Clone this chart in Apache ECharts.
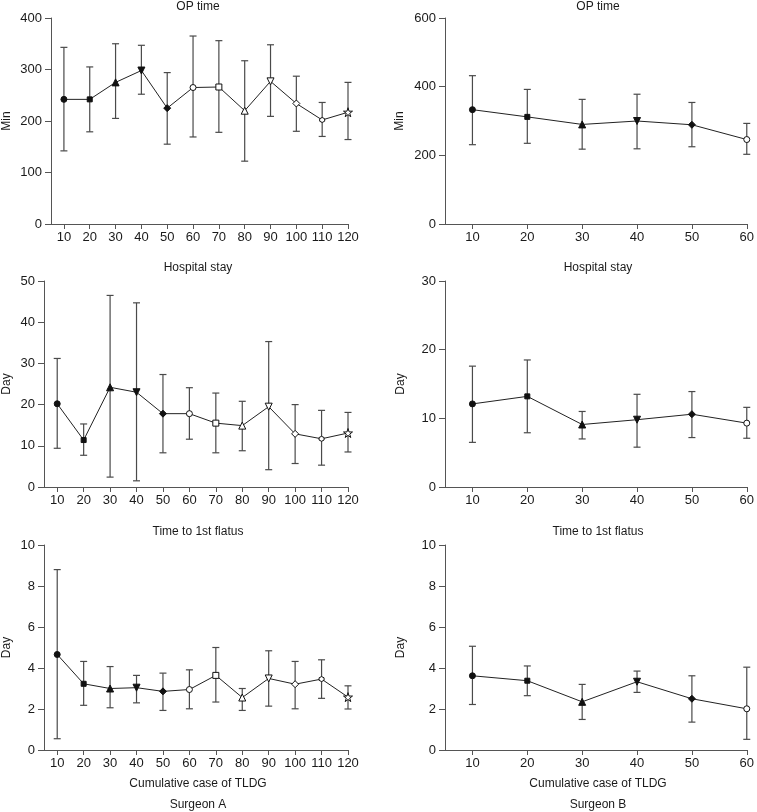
<!DOCTYPE html>
<html><head><meta charset="utf-8">
<script src="https://cdn.jsdelivr.net/npm/echarts@6/dist/echarts.min.js"></script>
<style>html,body{margin:0;padding:0;background:#fff}#c{width:757px;height:812px}</style>
</head><body><div id="c"></div>
<script>
// ---- data ----
const casesA = [10,20,30,40,50,60,70,80,90,100,110,120];
const casesB = [10,20,30,40,50,60];

const opA_mean = [242,242,275,298,225,265,266,220,277,234,202,217];
const opA_low  = [142,179,205,252,155,169,178,122,209,180,170,164];
const opA_high = [343,305,350,347,294,365,356,317,348,287,236,275];

const opB_mean = [333,312,290,300,289,246];
const opB_low  = [231,235,218,219,225,203];
const opB_high = [432,392,363,378,354,293];

const stayA_mean = [20.2,11.4,24.2,23.0,17.8,17.8,15.5,14.9,19.5,12.9,11.7,13.1];
const stayA_low  = [9.4,7.7,2.4,1.5,8.3,11.6,8.3,8.8,4.2,5.7,5.3,8.5];
const stayA_high = [31.2,15.3,46.5,44.7,27.3,24.1,22.8,20.8,35.3,20.0,18.6,18.1];

const stayB_mean = [12.1,13.2,9.1,9.8,10.6,9.3];
const stayB_low  = [6.5,7.9,7.0,5.8,7.2,7.1];
const stayB_high = [17.6,18.5,11.0,13.5,13.9,11.6];

const flatA_mean = [4.66,3.23,3.0,3.04,2.86,2.95,3.64,2.56,3.49,3.21,3.46,2.58];
const flatA_low  = [0.55,2.18,2.06,2.3,1.93,2.01,2.34,1.93,2.14,2.01,2.52,2.0];
const flatA_high = [8.8,4.32,4.07,3.64,3.75,3.91,5.0,3.0,4.84,4.32,4.4,3.13];

const flatB_mean = [3.62,3.38,2.35,3.33,2.5,2.01];
const flatB_low  = [2.22,2.65,1.49,2.81,1.36,0.52];
const flatB_high = [5.06,4.1,3.2,3.85,3.62,4.04];

// ---- marker styles ----
const HEX = 'path://M0,-1L0.866,-0.5L0.866,0.5L0,1L-0.866,0.5L-0.866,-0.5Z';
const STAR = 'path://M0,-1L0.2245,-0.309L0.9511,-0.309L0.3633,0.118L0.5878,0.809L0,0.382L-0.5878,0.809L-0.3633,0.118L-0.9511,-0.309L-0.2245,-0.309Z';
const MARKS = [
  {s:'circle', z:6, f:true},
  {s:'rect', z:5, f:true},
  {s:'triangle', z:7, f:true},
  {s:'triangle', r:180, z:7, f:true},
  {s:'diamond', z:7, f:true},
  {s:'circle', z:6, f:false},
  {s:'rect', z:6, f:false},
  {s:'triangle', z:7, f:false},
  {s:'triangle', r:180, z:7, f:false},
  {s:'diamond', z:7, f:false},
  {s:HEX, z:5, f:false},
  {s:STAR, z:9, f:false}
];

const FONT = 'Liberation Sans, Arial, sans-serif';
const INK = '#1a1a1a';
const AXIS = '#555';

const grids = [], xAxes = [], yAxes = [], series = [];

function panel(xs, mean, lo, hi, xMax, yMax, yInt, yName, g, nameGap) {
  const i = grids.length;
  grids.push(Object.assign({containLabel:false}, g));
  xAxes.push({
    gridIndex:i, type:'value', min:5, max:xMax,
    axisLine:{lineStyle:{color:AXIS, width:1}},
    axisTick:{customValues:xs, length:5, lineStyle:{color:AXIS}},
    axisLabel:{customValues:xs, color:INK, fontSize:13, fontFamily:FONT, margin:7},
    splitLine:{show:false}
  });
  yAxes.push({
    gridIndex:i, type:'value', min:0, max:yMax, interval:yInt,
    name:yName, nameLocation:'middle', nameGap:nameGap,
    nameTextStyle:{color:INK, fontSize:12, fontFamily:FONT},
    axisLine:{show:true, lineStyle:{color:AXIS, width:1}},
    axisTick:{show:true, length:6, lineStyle:{color:AXIS}},
    axisLabel:{color:INK, fontSize:13, fontFamily:FONT, margin:9},
    splitLine:{show:false}
  });
  series.push({
    type:'custom', xAxisIndex:i, yAxisIndex:i, z:1,
    encode:{x:0, y:[1,2]},
    data: xs.map((x,k)=>[x, lo[k], hi[k]]),
    renderItem(params, api){
      const x = api.value(0);
      const pt = api.coord([x, api.value(2)]);
      const pb = api.coord([x, api.value(1)]);
      const w = 3.5;
      const st = {stroke:'#4a4a4a', lineWidth:1.2};
      return {type:'group', children:[
        {type:'line', shape:{x1:pt[0], y1:pt[1], x2:pb[0], y2:pb[1]}, style:st},
        {type:'line', shape:{x1:pt[0]-w, y1:pt[1], x2:pt[0]+w, y2:pt[1]}, style:st},
        {type:'line', shape:{x1:pb[0]-w, y1:pb[1], x2:pb[0]+w, y2:pb[1]}, style:st}
      ]};
    }
  });
  series.push({
    type:'line', xAxisIndex:i, yAxisIndex:i, z:3,
    lineStyle:{color:'#222', width:1},
    data: xs.map((x,k)=>{
      const m = MARKS[k];
      return {
        value:[x, mean[k]], symbol:m.s, symbolSize:m.z, symbolRotate:m.r||0,
        itemStyle:{color: m.f ? '#111' : '#fff', borderColor:'#111', borderWidth:1}
      };
    })
  });
}

panel(casesA, opA_mean, opA_low, opA_high, 120, 400, 100, 'Min', {left:47, top:18, width:301, height:206}, 38);
panel(casesB, opB_mean, opB_low, opB_high, 60, 600, 200, 'Min', {left:445, top:18, width:305, height:206}, 39);
panel(casesA, stayA_mean, stayA_low, stayA_high, 120, 50, 10, 'Day', {left:41, top:281, width:307, height:206}, 31);
panel(casesB, stayB_mean, stayB_low, stayB_high, 60, 30, 10, 'Day', {left:445, top:281, width:305, height:206}, 38);
panel(casesA, flatA_mean, flatA_low, flatA_high, 120, 10, 2, 'Day', {left:40, top:545, width:308, height:205}, 31);
panel(casesB, flatB_mean, flatB_low, flatB_high, 60, 10, 2, 'Day', {left:445, top:545, width:305, height:205}, 38);

function label(text, x, y) {
  return {type:'text', x:x, y:y, style:{text:text, fill:INK, font:'12px ' + FONT, textAlign:'center', textVerticalAlign:'middle'}};
}

const chart = echarts.init(document.getElementById('c'), null, {renderer:'canvas'});
chart.setOption({
  animation:false,
  backgroundColor:'#fff',
  grid:grids, xAxis:xAxes, yAxis:yAxes, series:series,
  graphic:[
    label('OP time', 198, 7), label('OP time', 598, 7),
    label('Hospital stay', 198, 268), label('Hospital stay', 598, 268),
    label('Time to 1st flatus', 198, 532), label('Time to 1st flatus', 598, 532),
    label('Cumulative case of TLDG', 198, 784), label('Cumulative case of TLDG', 598, 784),
    label('Surgeon A', 198, 805), label('Surgeon B', 598, 805)
  ]
});
</script>
</body></html>
